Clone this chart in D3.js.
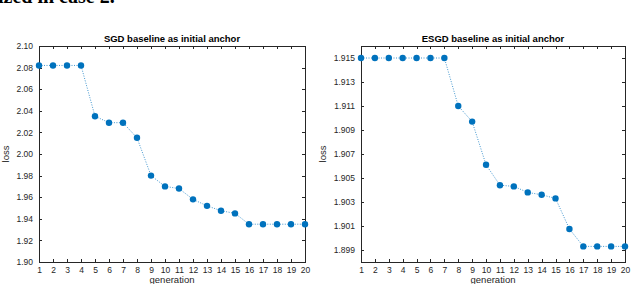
<!DOCTYPE html>
<html><head><meta charset="utf-8">
<script src="https://cdn.jsdelivr.net/npm/d3@7"></script>
<style>body{margin:0;background:#fff;} svg{display:block;}</style>
</head><body>
<svg id="c" width="632" height="284"></svg>
<script>
const generations = d3.range(1, 21);
const sgdLoss = [2.082,2.082,2.082,2.082,2.035,2.029,2.029,2.015,1.980,1.970,1.968,1.958,1.952,1.9475,1.945,1.935,1.935,1.935,1.935,1.935];
const esgdLoss = [1.915,1.915,1.915,1.915,1.915,1.915,1.915,1.911,1.9097,1.9061,1.9044,1.9043,1.9038,1.9036,1.9033,1.90075,1.8993,1.8993,1.8993,1.8993];
const sgdTicks = [1.90,1.92,1.94,1.96,1.98,2.00,2.02,2.04,2.06,2.08,2.10];
const esgdTicks = [1.899,1.901,1.903,1.905,1.907,1.909,1.911,1.913,1.915];
const titles = ["SGD baseline as initial anchor","ESGD baseline as initial anchor"];

const svg = d3.select("#c");
const font = "Liberation Sans, Arial, sans-serif";
const blue = "#0072BD";

// cut-off caption text at top (part of surrounding document)
svg.append("text").attr("x", -2).attr("y", 3).attr("font-family","Liberation Serif, Times New Roman, serif")
  .attr("font-weight","bold").attr("font-size",20).attr("fill","#000").text("ized in case 2.");

function panel(x0, x1, y0, y1, data, domain, ticks, fmt, title){
  const g = svg.append("g");
  const x = d3.scaleLinear().domain([1,20]).range([x0,x1]);
  const y = d3.scaleLinear().domain(domain).range([y1,y0]);
  const tl = 3;
  g.append("rect").attr("x",x0).attr("y",y0).attr("width",x1-x0).attr("height",y1-y0)
    .attr("fill","none").attr("stroke","#262626").attr("stroke-width",1).attr("shape-rendering","crispEdges");
  const xb = d3.axisBottom(x).tickValues(generations).tickSize(-tl).tickPadding(5).tickFormat(d3.format("d"));
  const gx = g.append("g").attr("transform",`translate(0,${y1})`).call(xb);
  const xt = d3.axisTop(x).tickValues(generations).tickSize(-tl).tickFormat("");
  const gxt = g.append("g").attr("transform",`translate(0,${y0})`).call(xt);
  const yl = d3.axisLeft(y).tickValues(ticks).tickSize(-tl).tickPadding(6).tickFormat(fmt);
  const gy = g.append("g").attr("transform",`translate(${x0},0)`).call(yl);
  const yr = d3.axisRight(y).tickValues(ticks).tickSize(-tl).tickFormat("");
  const gyr = g.append("g").attr("transform",`translate(${x1},0)`).call(yr);
  [gx,gxt,gy,gyr].forEach(a=>{
    a.select(".domain").remove();
    a.selectAll("line").attr("stroke","#262626").attr("shape-rendering","crispEdges");
    a.selectAll("text").attr("font-family",font).attr("font-size",8.5).attr("fill","#262626");
  });
  g.append("path").datum(data).attr("fill","none").attr("stroke",blue).attr("stroke-opacity",0.75)
    .attr("stroke-width",1).attr("stroke-dasharray","1,1.5")
    .attr("d", d3.line().x((d,i)=>x(generations[i])).y(d=>y(d)));
  g.selectAll("circle.m").data(data).join("circle").attr("class","m")
    .attr("cx",(d,i)=>x(generations[i])).attr("cy",d=>y(d)).attr("r",3.2).attr("fill",blue);
  g.append("text").attr("x",(x0+x1)/2).attr("y",y0-4).attr("text-anchor","middle")
    .attr("font-family",font).attr("font-weight","bold").attr("font-size",9.5).attr("fill","#000").text(title);
  g.append("text").attr("x",(x0+x1)/2).attr("y",283).attr("text-anchor","middle")
    .attr("font-family",font).attr("font-size",9.5).attr("fill","#262626").text("generation");
  return g;
}
const g1 = panel(39,305,46,262,sgdLoss,[1.90,2.10],sgdTicks,d3.format(".2f"),titles[0]);
g1.append("text").attr("transform","translate(9,154) rotate(-90)").attr("text-anchor","middle")
  .attr("font-family",font).attr("font-size",9.5).attr("fill","#262626").text("loss");
const g2 = panel(361,625,46,262,esgdLoss,[1.898,1.916],esgdTicks,d3.format(".3f"),titles[1]);
g2.append("text").attr("transform","translate(326,154) rotate(-90)").attr("text-anchor","middle")
  .attr("font-family",font).attr("font-size",9.5).attr("fill","#262626").text("loss");
</script>
</body></html>
